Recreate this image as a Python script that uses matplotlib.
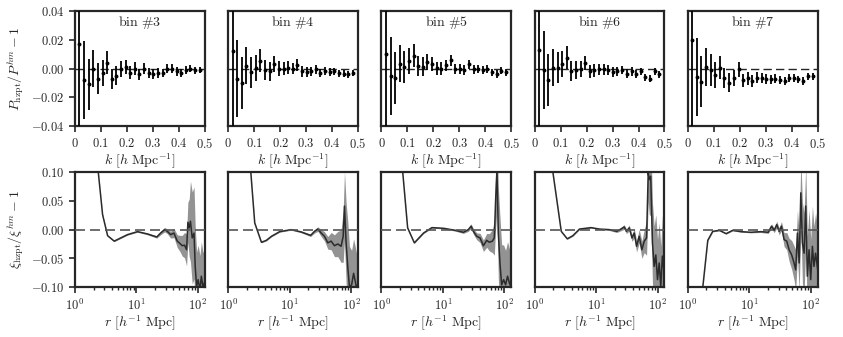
import numpy as np
import matplotlib
matplotlib.use("Agg")
import matplotlib.pyplot as plt
from matplotlib.ticker import FuncFormatter, FixedLocator, LogLocator, NullFormatter

plt.rcParams['mathtext.fontset'] = 'cm'
plt.rcParams['font.family'] = 'serif'

# ---- top row: power spectrum ratio ----
bins = [3, 4, 5, 6, 7]
k_vals = [0.017, 0.035, 0.052, 0.070, 0.088, 0.106, 0.124, 0.141, 0.159, 0.177,
          0.195, 0.213, 0.230, 0.248, 0.266, 0.284, 0.302, 0.319, 0.337, 0.355,
          0.373, 0.391, 0.408, 0.426, 0.444, 0.462, 0.480]
pk_err = [0.10, 0.027, 0.018, 0.013, 0.011, 0.009, 0.008, 0.007, 0.0065, 0.0056,
          0.005, 0.0045, 0.0045, 0.004, 0.004, 0.0035, 0.0035, 0.0033, 0.003, 0.003,
          0.003, 0.0028, 0.0027, 0.0025, 0.0025, 0.0024, 0.0023]
pk_bin3 = [0.017, -0.008, -0.011, 0.0, -0.007, -0.003, 0.004, -0.007, -0.005, 0.0,
           0.001, -0.003, 0.0, -0.004, 0.0, -0.003, -0.004, -0.003, -0.003, 0.0,
           0.0, -0.002, -0.003, -0.001, 0.0, -0.001, -0.001]
pk_bin4 = [0.0123, -0.007, -0.010, 0.002, -0.0026, 0.0007, 0.0054, -0.0009, -0.002, 0.003,
           0.0, 0.0, 0.0005, 0.0, 0.0026, -0.002, -0.0026, -0.002, -0.0005, -0.003,
           -0.0016, -0.0023, -0.002, -0.0033, -0.0035, -0.004, -0.003]
pk_bin5 = [0.0105, -0.005, -0.0065, 0.0035, 0.001, 0.0054, 0.009, 0.002, 0.0014, 0.0044,
           0.0033, 0.0002, 0.0, 0.0023, 0.0058, -0.0005, -0.0005, -0.001, 0.003, -0.0005,
           -0.0002, -0.0007, -0.0005, -0.0026, -0.0037, -0.0016, -0.0026]
pk_bin6 = [0.0128, -0.001, -0.008, 0.0007, 0.0007, 0.0035, 0.0077, -0.0016, -0.001, -0.0005,
           0.004, -0.002, -0.001, -0.0005, -0.0005, -0.0007, -0.0023, -0.002, -0.001, -0.0035,
           -0.002, -0.0035, -0.002, -0.006, -0.007, -0.002, -0.004]
pk_bin7 = [0.020, -0.006, -0.009, 0.001, -0.001, -0.0044, 0.0007, -0.0068, -0.0098, -0.0068,
           -0.0005, -0.008, -0.0068, -0.0086, -0.0063, -0.0068, -0.0075, -0.0075, -0.007, -0.008,
           -0.0086, -0.0063, -0.0063, -0.0075, -0.0086, -0.0054, -0.0054]

# ---- bottom row: correlation function ratio ----
r_bin3 = [2.0, 2.39, 2.81, 3.39, 4.34, 7.14, 10.4, 15.1, 21.4, 24.8, 28.8, 31.8, 36.0, 40.8,
          46.2, 51.0, 55.7, 60.7, 65.5, 68.8, 72.3, 75.7, 80.9, 86.6, 90.5, 95.4, 101, 108,
          114, 121, 130]
xi_bin3 = [0.17, 0.10, 0.026, -0.0105, -0.020, -0.0087, -0.0035, -0.0075, -0.0128, -0.0058,
           0.0, -0.003, -0.0087, -0.006, -0.020, -0.024, -0.028, -0.027, -0.035, 0.0128,
           0.003, 0.0145, -0.0145, -0.006, -0.064, -0.099, -0.087, -0.105, -0.081, -0.10, -0.09]
band_bin3 = [0.001, 0.001, 0.001, 0.001, 0.001, 0.001, 0.001, 0.0015, 0.002, 0.003,
             0.004, 0.004, 0.006, 0.008, 0.011, 0.014, 0.018, 0.022, 0.028, 0.035,
             0.05, 0.07, 0.08, 0.08, 0.07, 0.06, 0.06, 0.06, 0.06, 0.06, 0.06]

r_bin4 = [2.0, 2.33, 2.7, 3.47, 4.18, 5.05, 6.88, 10.6, 15.4, 21.9, 25.4, 28.8, 32.6, 36.9,
          41.8, 47.4, 53.6, 60.8, 68.8, 74.4, 78.1, 83, 88.2, 94, 102, 110, 117, 122, 130]
xi_bin4 = [0.18, 0.10, 0.0116, -0.022, -0.0186, -0.0116, -0.0035, 0.0, -0.004, -0.010,
           -0.003, 0.001, -0.006, -0.0116, -0.023, -0.020, -0.028, -0.025, -0.029, -0.0116,
           0.041, -0.023, -0.064, -0.099, -0.096, -0.076, -0.09, -0.10, -0.095]
band_bin4 = [0.001, 0.001, 0.001, 0.001, 0.001, 0.001, 0.001, 0.001, 0.0015, 0.002,
             0.003, 0.004, 0.006, 0.008, 0.011, 0.015, 0.019, 0.022, 0.028, 0.045,
             0.06, 0.07, 0.08, 0.07, 0.06, 0.06, 0.06, 0.06, 0.06]

r_bin5 = [2.0, 2.22, 2.67, 3.43, 4.86, 6.63, 10.3, 15.9, 21.6, 26, 28.8, 31.4, 35.6, 40.3,
          45.7, 51.8, 57, 64, 68.8, 72.3, 76, 79.9, 85, 90.5, 97.7, 105, 113, 121, 130]
xi_bin5 = [0.16, 0.10, 0.003, -0.023, -0.0058, 0.0035, 0.0023, -0.0012, -0.0046, 0.0,
           0.006, -0.003, -0.0116, -0.0145, -0.028, -0.0186, -0.022, -0.020, -0.0145, 0.052,
           0.105, -0.006, -0.058, -0.096, -0.087, -0.096, -0.081, -0.093, -0.10]
band_bin5 = [0.001, 0.001, 0.001, 0.001, 0.001, 0.001, 0.001, 0.0015, 0.002, 0.003,
             0.004, 0.005, 0.006, 0.008, 0.010, 0.012, 0.015, 0.02, 0.03, 0.05,
             0.07, 0.08, 0.08, 0.07, 0.06, 0.06, 0.06, 0.06, 0.06]

r_bin6 = [1.8, 1.98, 2.71, 3.39, 4.19, 5.37, 8.3, 11.3, 16.4, 21.7, 25.4, 28.7, 31.3, 34.7,
          38.4, 41.8, 45.6, 50.4, 55.7, 60.8, 66.4, 70.6, 73.3, 77.5, 82.8, 88.2, 93.9, 100,
          106.6, 113, 120, 130]
xi_bin6 = [0.16, 0.10, -0.003, -0.016, -0.0105, 0.001, 0.0035, 0.001, 0.0, -0.003,
           0.001, 0.0046, -0.003, 0.003, -0.0145, -0.006, -0.029, -0.0116, -0.035, -0.020,
           -0.0145, 0.099, 0.087, 0.093, -0.023, -0.064, -0.044, -0.087, -0.058, -0.099,
           -0.046, -0.081]
band_bin6 = [0.001, 0.001, 0.001, 0.001, 0.001, 0.001, 0.001, 0.001, 0.0015, 0.002,
             0.003, 0.004, 0.004, 0.005, 0.006, 0.008, 0.010, 0.012, 0.015, 0.02,
             0.03, 0.05, 0.06, 0.07, 0.07, 0.07, 0.07, 0.07, 0.07, 0.07, 0.07, 0.07]

r_bin7 = [1.6, 1.75, 2.11, 2.54, 3.26, 4.19, 5.37, 7.33, 10.6, 15.4, 20.3, 23, 25.4, 28,
          30.6, 33.4, 36.9, 40.7, 44.5, 49, 53.6, 57, 60.8, 64.9, 69, 73.3, 78, 83, 88.2,
          94, 100, 106.6, 113, 120, 130]
xi_bin7 = [-0.2, -0.10, -0.0186, -0.003, -0.0012, -0.007, -0.0012, -0.0035, -0.0046, -0.0035,
           -0.0046, 0.006, -0.0012, 0.0087, -0.003, 0.006, -0.0174, -0.020, -0.035, -0.044,
           -0.058, -0.070, -0.006, -0.058, 0.064, -0.023, -0.041, 0.041, -0.081, -0.035,
           -0.087, -0.029, -0.064, -0.041, -0.07]
band_bin7 = [0.001, 0.001, 0.001, 0.001, 0.001, 0.001, 0.001, 0.001, 0.001, 0.0015,
             0.002, 0.004, 0.004, 0.006, 0.006, 0.008, 0.012, 0.015, 0.02, 0.025,
             0.03, 0.035, 0.04, 0.05, 0.06, 0.07, 0.07, 0.07, 0.07, 0.07,
             0.07, 0.07, 0.07, 0.07, 0.07]

pk_all = [pk_bin3, pk_bin4, pk_bin5, pk_bin6, pk_bin7]
r_all = [r_bin3, r_bin4, r_bin5, r_bin6, r_bin7]
xi_all = [xi_bin3, xi_bin4, xi_bin5, xi_bin6, xi_bin7]
band_all = [band_bin3, band_bin4, band_bin5, band_bin6, band_bin7]

dark = '#262626'


def style_axes(ax):
    for sp in ax.spines.values():
        sp.set_linewidth(1.6)
        sp.set_color(dark)
    ax.tick_params(direction='out', length=4, width=1.2, colors=dark, labelsize=9)


fig, axes = plt.subplots(2, 5, figsize=(8.43, 3.37), dpi=100)
fig.subplots_adjust(left=0.089, right=0.970, top=0.967, bottom=0.148, wspace=0.18, hspace=0.40)

for i, b in enumerate(bins):
    ax = axes[0, i]
    ax.axhline(0, color=dark, lw=1.0, ls=(0, (6, 3)), zorder=1)
    ax.errorbar(k_vals, pk_all[i], yerr=pk_err, fmt='o', color='k', ms=1.8,
                elinewidth=1.3, capsize=0, zorder=3)
    ax.set_xlim(0, 0.5)
    ax.set_ylim(-0.04, 0.04)
    ax.xaxis.set_major_locator(FixedLocator([0, 0.1, 0.2, 0.3, 0.4, 0.5]))
    ax.xaxis.set_major_formatter(FuncFormatter(lambda v, p: '$0$' if v == 0 else '$%.1f$' % v))
    ax.yaxis.set_major_locator(FixedLocator([-0.04, -0.02, 0.0, 0.02, 0.04]))
    ax.yaxis.set_major_formatter(FuncFormatter(lambda v, p: '$%.2f$' % v))
    ax.set_xlabel(r'$k\ [h\ \mathrm{Mpc}^{-1}]$', fontsize=10, color=dark, labelpad=1)
    ax.text(0.5, 0.9, r'$\mathrm{bin\ \#%d}$' % b, transform=ax.transAxes,
            ha='center', va='center', fontsize=10, color=dark)
    style_axes(ax)

    ax2 = axes[1, i]
    r = np.array(r_all[i])
    xi = np.array(xi_all[i])
    band = np.array(band_all[i])
    ax2.fill_between(r, xi - band, xi + band, color='#939393', lw=0, zorder=1)
    ax2.plot(r, xi, color='#2b2b2b', lw=1.1, zorder=2)
    ax2.axhline(0, color='#555555', lw=1.2, ls=(0, (6, 3)), zorder=3)
    ax2.set_xscale('log')
    ax2.set_xlim(1, 130)
    ax2.set_ylim(-0.1, 0.1)
    ax2.xaxis.set_major_locator(FixedLocator([1, 10, 100]))
    ax2.xaxis.set_major_formatter(FuncFormatter(lambda v, p: '$10^{%d}$' % round(np.log10(v))))
    ax2.xaxis.set_minor_locator(LogLocator(base=10, subs=np.arange(2, 10)))
    ax2.xaxis.set_minor_formatter(NullFormatter())
    ax2.yaxis.set_major_locator(FixedLocator([-0.1, -0.05, 0.0, 0.05, 0.1]))
    ax2.yaxis.set_major_formatter(FuncFormatter(lambda v, p: '$%.2f$' % v))
    ax2.set_xlabel(r'$r\ [h^{-1}\ \mathrm{Mpc}]$', fontsize=10, color=dark, labelpad=1)
    style_axes(ax2)
    ax2.tick_params(which='minor', direction='out', length=2.5, width=1.0, colors=dark)

    if i > 0:
        ax.tick_params(axis='y', left=False, labelleft=False)
        ax2.tick_params(axis='y', left=False, labelleft=False)

axes[0, 0].set_ylabel(r'$P_{\mathrm{hzpt}}/P^{hm}-1$', fontsize=10, color=dark)
axes[1, 0].set_ylabel(r'$\xi_{\mathrm{hzpt}}/\xi^{hm}-1$', fontsize=10, color=dark)

fig.savefig('out.png', dpi=100)
